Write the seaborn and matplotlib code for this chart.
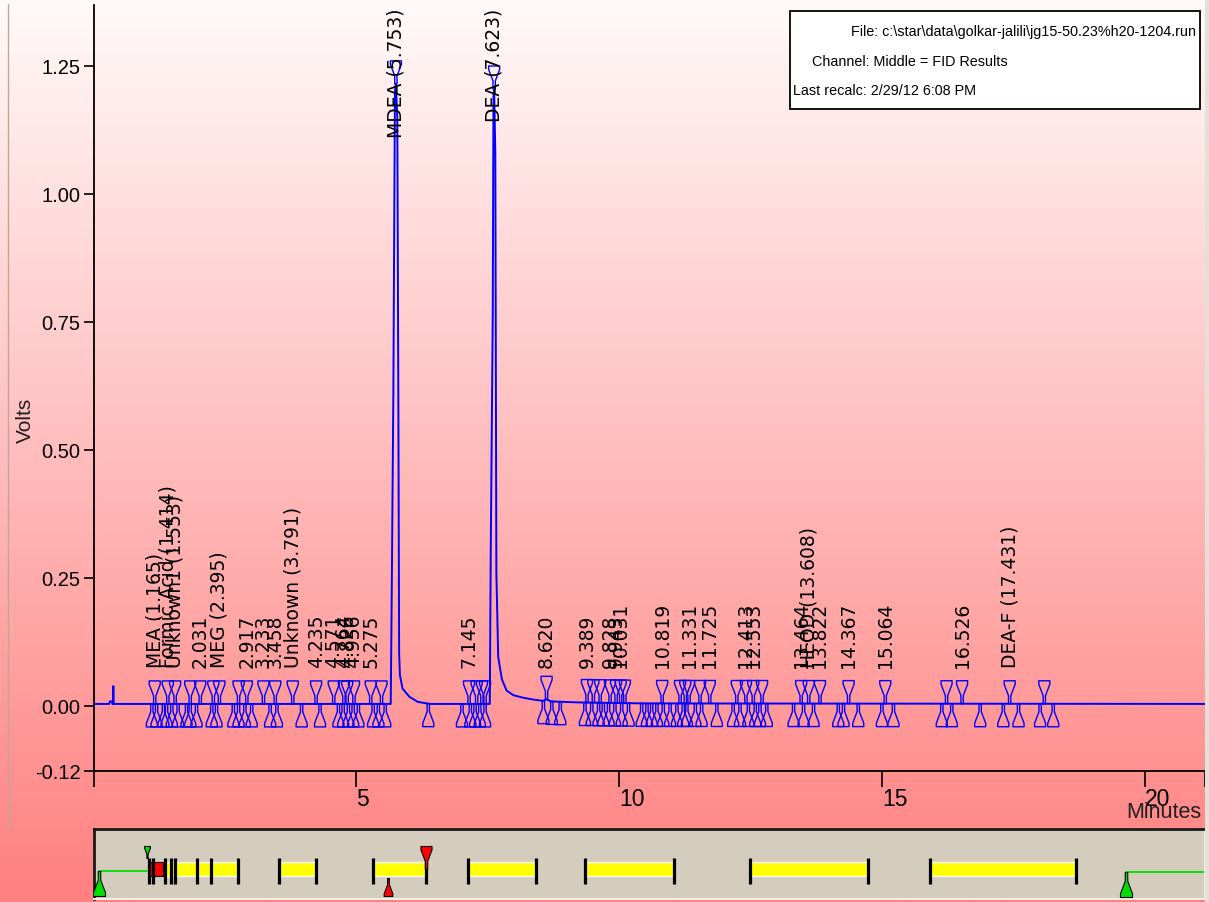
import numpy as np
import matplotlib
matplotlib.use("Agg")
import matplotlib.pyplot as plt
from matplotlib.path import Path
from matplotlib.patches import Rectangle
from matplotlib.lines import Line2D
import seaborn as sns

# ---------------- detector trace (minutes, volts) ----------------
trace_min = [0.00, 0.30, 0.31, 0.35, 0.36, 0.372, 0.377, 0.383, 5.655,
             5.675, 5.705, 5.735, 5.753, 5.78, 5.80, 5.815, 5.83, 5.88,
             6.01, 6.17, 6.40, 7.54, 7.558, 7.596, 7.61, 7.623, 7.645,
             7.665, 7.70, 7.77, 7.86, 7.99, 8.18, 8.37, 8.55, 8.62, 8.70,
             9.20, 10.50, 21.14]
trace_volts = [0.004, 0.004, 0.009, 0.009, 0.004, 0.004, 0.039, 0.004, 0.004,
               0.227, 0.61, 1.20, 1.215, 1.15, 0.60, 0.104, 0.06, 0.034,
               0.018, 0.008, 0.004, 0.004, 0.30, 0.76, 1.19, 1.205, 1.08,
               0.26, 0.096, 0.052, 0.030, 0.021, 0.016, 0.0125, 0.010, 0.013, 0.009,
               0.007, 0.005, 0.004]

# identified / reported peaks
label_min = [1.165, 1.414, 1.553, 2.031, 2.395, 2.917, 3.233, 3.458, 3.791,
             4.235, 4.571, 4.764, 4.826, 4.956, 5.275, 5.753, 7.145, 7.623,
             8.620, 9.389, 9.828, 9.943, 10.031, 10.819, 11.331, 11.725,
             12.413, 12.553, 13.464, 13.608, 13.822, 14.367, 15.064, 16.526,
             17.431]
label_name = ["MEA", "Formic Acid", "Unknown1", "", "MEG", "", "", "", "Unknown",
              "", "", "", "", "", "", "MDEA", "", "DEA",
              "", "", "", "", "", "", "", "",
              "", "", "", "HEOD", "", "", "", "",
              "DEA-F"]
# detected but unreported peak apexes
extra_peak_min = [1.84, 2.28, 2.76, 5.48, 7.29, 7.39, 7.45, 9.51, 9.64, 10.11,
                  11.16, 11.26, 11.54, 12.24, 12.72, 16.23, 18.09]
# peak start / end baseline marks
event_min = [1.11, 1.20, 1.33, 1.39, 1.49, 1.61, 1.77, 1.84, 1.96, 2.25, 2.34,
             2.66, 2.76, 2.88, 3.01, 3.36, 3.49, 3.96, 4.31, 4.66, 4.75, 4.85,
             4.94, 5.04, 5.32, 5.42, 5.55, 6.37, 7.01, 7.17, 7.26, 7.35, 7.45,
             8.56, 8.72, 8.88, 9.35, 9.48, 9.61, 9.70, 9.80, 9.92, 10.05,
             10.18, 10.43, 10.53, 10.62, 10.72, 10.84, 10.97, 11.10, 11.22,
             11.29, 11.45, 11.57, 11.86, 12.17, 12.30, 12.46, 12.59, 12.68,
             12.81, 13.32, 13.51, 13.70, 14.17, 14.27, 14.55, 15.00, 15.22,
             16.14, 16.33, 16.87, 17.31, 17.60, 18.01, 18.26]

# integration-event strip
strip_tick_min = [1.06, 1.14, 1.36, 1.48, 1.56, 1.96, 2.23, 2.74, 3.52, 4.23,
                  5.32, 6.33, 7.12, 8.41, 9.35, 11.04, 12.50, 14.74, 15.91, 18.69]
span_start = [1.32, 3.52, 5.32, 7.12, 9.35, 12.50, 15.91]
span_end = [2.74, 4.23, 6.33, 8.41, 11.04, 14.74, 18.69]

y_ticks = [-0.1264, 0.0, 0.25, 0.50, 0.75, 1.00, 1.25]
y_tick_text = ["-0.12", "0.00", "0.25", "0.50", "0.75", "1.00", "1.25"]
x_ticks = [0, 5, 10, 15, 20, 21.14]
x_tick_text = ["", "5", "10", "15", "20", ""]

info_lines = ["File: c:\\star\\data\\golkar-jalili\\jg15-50.23%h20-1204.run",
              "Channel: Middle = FID Results",
              "Last recalc: 2/29/12 6:08 PM"]

# ---------------- figure ----------------
W, H, DPI = 1209, 903, 100
XMAX, YMIN, YMAX = 21.14, -0.1264, 1.369
BLUE = "#0000ff"

sns.set_theme(style="ticks")
plt.rcParams["font.family"] = ["Liberation Sans", "DejaVu Sans"]

fig = plt.figure(figsize=(W / DPI, H / DPI), dpi=DPI)


def fx(px):
    return px / W


def fy(py):
    return 1 - py / H


# vertical pink wash behind everything
bg = fig.add_axes([0, 0, 1, 1], zorder=-10)
g = np.linspace(0, 1, 400)[:, None]
top_c = np.array([255, 250, 250]) / 255
bot_c = np.array([255, 128, 128]) / 255
wash = top_c + (bot_c - top_c) * g
bg.imshow(wash[:, None, :], aspect="auto", extent=[0, 1, 0, 1])
bg.set_axis_off()


def funnel(sign):
    v = [(-0.05, 0), (-0.05, 0.35), (-0.24, 0.85), (-0.24, 1.0), (0.24, 1.0),
         (0.24, 0.85), (0.05, 0.35), (0.05, 0), (-0.05, 0)]
    v = [(a, sign * b) for a, b in v]
    codes = [Path.MOVETO] + [Path.LINETO] * 7 + [Path.CLOSEPOLY]
    return Path(v, codes)


def msize(h_px):
    return (2 * h_px * 72 / DPI) ** 2


down_mark = funnel(1)   # apex mark: tip at the trace, opens upward
up_mark = funnel(-1)    # baseline mark: tip at the trace, opens downward

ax = fig.add_axes([fx(93.5), fy(771.7), fx(1204.6) - fx(93.5), fy(6) - fy(771.7)])
ax.set_facecolor("none")

sns.lineplot(x=trace_min, y=trace_volts, ax=ax, color=BLUE, linewidth=1.4,
             sort=False, estimator=None, zorder=3)

apex_min = sorted(label_min + extra_peak_min)
apex_v = np.interp(apex_min, trace_min, trace_volts)
sns.scatterplot(x=apex_min, y=apex_v, ax=ax, marker=down_mark, s=msize(23),
                facecolor="none", edgecolor=BLUE, linewidth=1.0, zorder=4)
event_v = np.interp(event_min, trace_min, trace_volts)
sns.scatterplot(x=event_min, y=event_v, ax=ax, marker=up_mark, s=msize(23),
                facecolor="none", edgecolor=BLUE, linewidth=1.0, zorder=4)

for t, name in zip(label_min, label_name):
    txt = f"{name} ({t:.3f})" if name else f"{t:.3f}"
    apex = np.interp(t, trace_min, trace_volts)
    if apex > 0.5:
        ax.text(t, YMAX - 0.005, txt, rotation=90, ha="center", va="top",
                fontsize=13.5, family="DejaVu Sans", color="black", zorder=5)
    else:
        ax.text(t, 0.076, txt, rotation=90, ha="center", va="bottom",
                fontsize=13.5, family="DejaVu Sans", color="black", zorder=5)

ax.set_xlim(0, XMAX)
ax.set_ylim(YMIN, YMAX)
ax.set_xticks(x_ticks, labels=x_tick_text)
ax.set_yticks(y_ticks, labels=y_tick_text)
ax.tick_params(axis="x", direction="out", length=11.5, width=1.2, pad=0,
               labelsize=16.5, colors="black")
ax.tick_params(axis="y", direction="out", length=7.5, width=1.2, pad=2,
               labelsize=14.5, colors="black")
for lbl in ax.get_xticklabels():
    lbl.set_horizontalalignment("left")
for s in ["top", "right"]:
    ax.spines[s].set_visible(False)
for s in ["left", "bottom"]:
    ax.spines[s].set_color("black")
    ax.spines[s].set_linewidth(1.3)
ax.set_xlabel("")
ax.set_ylabel("")

fig.text(fx(25), fy(420), "Volts", rotation=90, ha="center", va="center",
         fontsize=15, color="#202020")
fig.text(fx(1164), fy(812), "Minutes", ha="center", va="center", fontsize=15.5,
         color="#202020")

# run information box
fig.add_artist(Rectangle((fx(790), fy(110)), fx(1200) - fx(790), fy(12) - fy(110),
                         transform=fig.transFigure, facecolor="white",
                         edgecolor="black", linewidth=1.3, zorder=6))
fig.text(fx(1196), fy(32), info_lines[0], ha="right", va="center", fontsize=10.4,
         color="black", zorder=7)
for (px, py), line in zip([(812, 62), (793, 91)], info_lines[1:]):
    fig.text(fx(px), fy(py), line, ha="left", va="center", fontsize=10.4,
             color="black", zorder=7)

# integration-event strip
pax = fig.add_axes([fx(93.5), fy(900), fx(1204.6) - fx(93.5), fy(830) - fy(900)])
pax.set_facecolor("#d4ccbd")
pax.set_xlim(0, XMAX)
pax.set_ylim(0, 1)
pax.set_xticks([])
pax.set_yticks([])
for s in ["top", "left"]:
    pax.spines[s].set_color("#1a1a1a")
    pax.spines[s].set_linewidth(2)
for s in ["bottom", "right"]:
    pax.spines[s].set_color("#f2eee6")
    pax.spines[s].set_linewidth(1.5)

pax.barh([0.43] * len(span_start), np.subtract(span_end, span_start),
         left=span_start, height=0.2, color="#ffff00", zorder=2)
pax.barh(0.43, 0.26, left=1.06, height=0.2, color="#ff0000",
         edgecolor="black", linewidth=0.8, zorder=3)
pax.vlines(strip_tick_min, 0.214, 0.591, color="black", linewidth=2.3, zorder=4)
pax.plot([0.10, 1.02], [0.4, 0.4], color="#00e000", linewidth=1.3, zorder=2)
pax.plot([19.64, XMAX], [0.39, 0.39], color="#00e000", linewidth=1.3, zorder=2)
sns.scatterplot(x=[0.10, 19.64], y=[0.4, 0.39], ax=pax, marker=up_mark,
                s=msize(25), color="#00e000", edgecolor="black", linewidth=0.8,
                zorder=5)
sns.scatterplot(x=[1.02], y=[0.586], ax=pax, marker=down_mark, s=msize(12),
                color="#00e000", edgecolor="black", linewidth=0.8, zorder=5)
sns.scatterplot(x=[6.33], y=[0.43], ax=pax, marker=down_mark, s=msize(23),
                color="#ff0000", edgecolor="black", linewidth=0.8, zorder=5)
sns.scatterplot(x=[5.60], y=[0.30], ax=pax, marker=up_mark, s=msize(18),
                color="#ff0000", edgecolor="black", linewidth=0.8, zorder=5)

# window frame edges
fig.add_artist(Line2D([fx(8), fx(8)], [fy(5), fy(830)], transform=fig.transFigure,
                      color="#c0a890", linewidth=1.0, zorder=1))
fig.add_artist(Rectangle((fx(1205), 0), fx(4), 1, transform=fig.transFigure,
                         facecolor="#e4e0d8", edgecolor="none", zorder=1))

fig.savefig("out.png", dpi=DPI)
